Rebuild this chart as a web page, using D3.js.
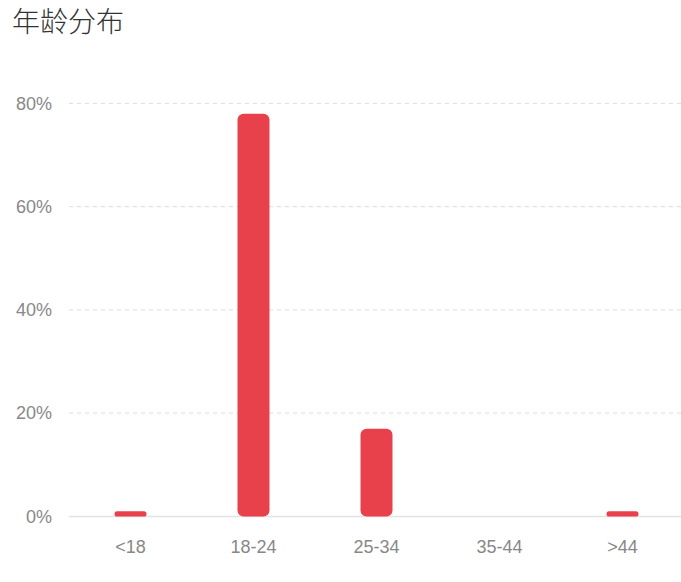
<!DOCTYPE html>
<html><head><meta charset="utf-8">
<script src="https://cdn.jsdelivr.net/npm/d3@7"></script>
<style>
html,body{margin:0;padding:0;background:#fff;}
svg{display:block;font-family:"Noto Sans CJK SC","Noto Sans",sans-serif;}
</style></head>
<body>
<svg id="chart" width="681" height="582"></svg>
<script>
const title = "年龄分布";
const categories = ["<18", "18-24", "25-34", "35-44", ">44"];
const values = [0.01, 0.78, 0.17, 0, 0.01];
const yTicks = [0, 0.2, 0.4, 0.6, 0.8];

const svg = d3.select("#chart");
const W = 681, H = 582;
const x = d3.scaleBand().domain(categories).range([69, 684]).paddingInner(0.74).paddingOuter(0.37);
const y = d3.scaleLinear().domain([0, 0.8]).range([516.5, 103.3]);

svg.append("text").attr("x", 12).attr("y", 32)
  .attr("font-size", 28).attr("font-weight", 300).attr("fill", "#333").text(title);

// grid
const grid = svg.append("g");
grid.selectAll("line").data(yTicks.filter(d => d > 0)).join("line")
  .attr("x1", 69).attr("x2", W).attr("y1", d => y(d)).attr("y2", d => y(d))
  .attr("stroke", "#e3e3e3").attr("stroke-width", 1.3).attr("stroke-dasharray", "4,4");

// y axis labels
const yAxis = d3.axisLeft(y).tickValues(yTicks).tickFormat(d3.format(".0%")).tickSize(0).tickPadding(0);
const gy = svg.append("g").attr("transform", "translate(52,0)").call(yAxis);
gy.select(".domain").remove();
gy.selectAll("text").attr("font-size", 18).attr("fill", "#888").attr("font-family", "'Liberation Sans',sans-serif");

// baseline
svg.append("line").attr("x1", 69).attr("x2", W).attr("y1", y(0)).attr("y2", y(0))
  .attr("stroke", "#e2e2e2").attr("stroke-width", 1.5);

// x axis labels
const xAxis = d3.axisBottom(x).tickSize(0).tickPadding(0);
const gx = svg.append("g").attr("transform", `translate(0,${y(0) + 36})`).call(xAxis);
gx.select(".domain").remove();
gx.selectAll("text").attr("font-size", 18).attr("fill", "#888").attr("font-family", "'Liberation Sans',sans-serif").attr("dy", "0");

// bars
svg.append("g").selectAll("rect").data(categories.map((c, i) => ({c, v: values[i]})).filter(d => d.v > 0))
  .join("rect")
  .attr("x", d => x(d.c))
  .attr("width", x.bandwidth())
  .attr("y", d => y(d.v))
  .attr("height", d => y(0) - y(d.v))
  .attr("rx", d => Math.min(6, (y(0) - y(d.v)) / 2))
  .attr("fill", "#e8414b");
</script>
</body></html>
